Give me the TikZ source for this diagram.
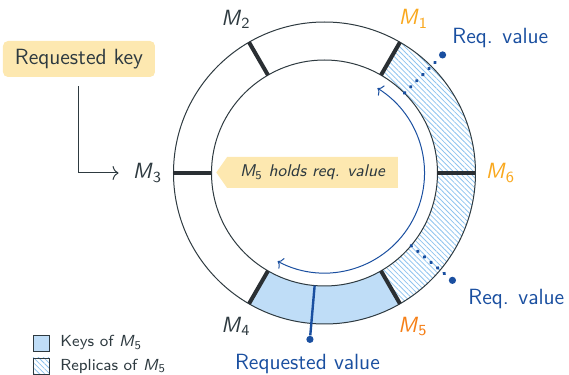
\documentclass[tikz,border=0pt]{standalone}
\usepackage{fontspec}
\usepackage{amsmath}
\usetikzlibrary{shapes.symbols,patterns.meta,arrows.meta}

\definecolor{ink}{HTML}{2E3A40}
\definecolor{tickc}{HTML}{2A2F33}
\definecolor{reqblue}{HTML}{1A4FA0}
\definecolor{keysfill}{HTML}{BFDDF7}
\definecolor{hatchc}{HTML}{8EC3EE}
\definecolor{notefill}{HTML}{FDE8B0}
\definecolor{amber}{HTML}{F9A81E}
\definecolor{deeporange}{HTML}{F57F17}

% machine name: italic sans M with an upright sans index
\newcommand\Mx[1]{\textit{M}$_{\textsf{\upshape #1}}$}

\tikzset{
  ringline/.style={draw=ink, line width=0.5pt},
  tickline/.style={draw=tickc, line width=2pt},
  mlab/.style={inner sep=0pt, font=\sffamily\fontsize{11}{13}\selectfont},
  bluetext/.style={text=reqblue, inner sep=0pt, font=\sffamily\fontsize{11}{13}\selectfont},
  enddot/.style={circle, fill=reqblue, inner sep=0pt, minimum size=3.6pt},
  replpath/.style={draw=reqblue, line width=1.7pt, line cap=round, dash pattern=on 0.3pt off 4pt},
  hatchfill/.style={pattern={Lines[angle=-45,distance=1.8pt,line width=0.4pt]}, pattern color=hatchc},
  legbox/.style={draw=ink, line width=0.4pt, minimum size=8pt, inner sep=0pt},
  legtext/.style={text=ink, inner sep=0pt, font=\sffamily\fontsize{8}{10}\selectfont},
}

\begin{document}
\begin{tikzpicture}[x=0.5pt, y=0.5pt]
\useasboundingbox (-324.5,-202) rectangle (244.5,173);
\coordinate (o) at (0,0);

% key range of M5 and its replicas on the ring
\fill[keysfill] (240:151) arc[start angle=240, end angle=300, radius=75.5pt]
  -- (300:113) arc[start angle=300, end angle=240, radius=56.5pt] -- cycle;
\fill[hatchfill] (-60:151) arc[start angle=-60, end angle=60, radius=75.5pt]
  -- (60:113) arc[start angle=60, end angle=-60, radius=56.5pt] -- cycle;

% the ring
\draw[ringline] (o) circle[radius=75.5pt];
\draw[ringline] (o) circle[radius=56.5pt];
\foreach \a in {0,60,...,300}
  \draw[tickline] (\a:113) -- (\a:151);

% machine labels
\node[mlab, text=amber] (M1) at (60:178) {\Mx{1}};
\node[mlab, text=ink] (M2) at (120:177) {\Mx{2}};
\node[mlab, text=ink] (M3) at (180:177) {\Mx{3}};
\node[mlab, text=ink] (M4) at (240:177) {\Mx{4}};
\node[mlab, text=deeporange] (M5) at (300:177) {\Mx{5}};
\node[mlab, text=amber] (M6) at (0:176) {\Mx{6}};

% requested values
\node[enddot] (rv) at (-95:167) {};
\draw[draw=reqblue, line width=1.2pt] (-95:113) -- (rv);
\node[bluetext, anchor=base] (rvt) at (-17,-197) {Requested value};

\node[enddot] (rq1) at (45:167) {};
\draw[replpath] (45:113) -- (rq1);
\node[bluetext, anchor=base west] (rq1t) at (127.5,129) {Req. value};

\node[enddot] (rq2) at (-40:167) {};
\draw[replpath] (-40:113) -- (rq2);
\node[bluetext, anchor=base west] (rq2t) at (143.5,-132) {Req. value};

% lookup may travel either way round
\draw[draw=reqblue, line width=0.5pt, {To[length=2.5pt,width=6pt]}-{To[length=2.5pt,width=6pt]}]
  (-118:100) arc[start angle=-118, end angle=58, radius=50pt];

% note inside the ring
\node[signal, signal to=west, signal pointer angle=110, fill=notefill,
      minimum height=15.5pt, inner xsep=6.5pt, text=ink,
      font=\sffamily\itshape\fontsize{8.5}{10}\selectfont] (hold) at (-12,0.5)
  {\Mx{5} holds req. value};

% incoming request
\node[fill=notefill, rounded corners=2.5pt, minimum width=76pt, minimum height=18pt,
      text=ink, font=\sffamily\fontsize{11}{13}\selectfont] (key) at (-245.5,114)
  {Requested key};
\draw[draw=ink, line width=0.5pt, shorten <=4.5pt, shorten >=7pt, -{To[length=3pt,width=7pt]}]
  (key.south) |- (M3.west |- o);

% legend
\node[legbox, fill=keysfill] (lk) at (-283.5,-170) {};
\node[legtext, anchor=west] (lkt) at (-264.5,-170) {Keys of \Mx{5}};
\node[legbox, hatchfill] (lr) at (-283.5,-193) {};
\node[legtext, anchor=west] (lrt) at (-264.5,-193) {Replicas of \Mx{5}};
\end{tikzpicture}
\end{document}
